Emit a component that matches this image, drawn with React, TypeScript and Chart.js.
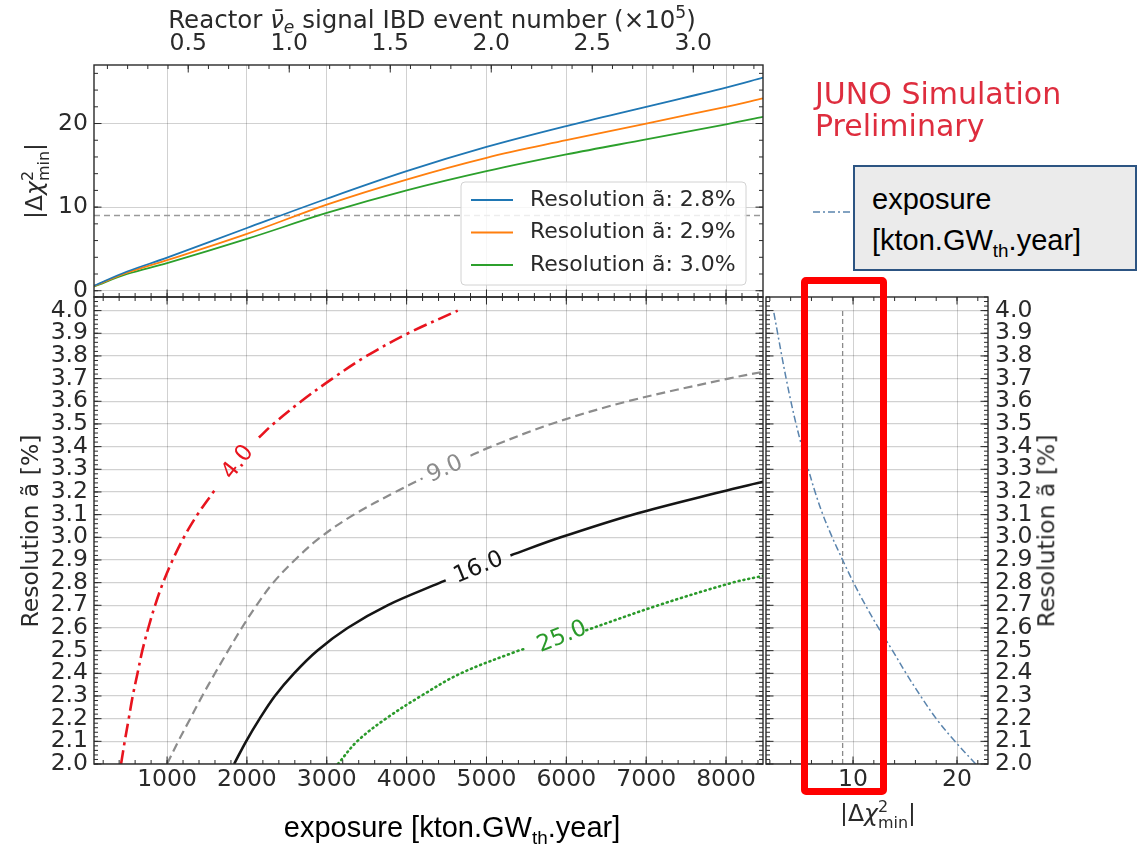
import React, { useEffect, useRef } from 'react';
import { Chart, registerables } from 'chart.js';

Chart.register(...registerables);

const PAGE_W = 1139;
const PAGE_H = 846;
const FONT = '"DejaVu Sans", sans-serif';
const SANS = '"Liberation Sans", Arial, sans-serif';
const INK = '#2a2a2a';
const GRID = 'rgba(0,0,0,0.18)';

// ---- axes ----
const EXPOSURE_MIN = 85;
const EXPOSURE_MAX = 8463;
const EXPOSURE_TICKS = [1000, 2000, 3000, 4000, 5000, 6000, 7000, 8000];
const EXPOSURE_PER_1E5_IBD = 2530;
const IBD_TICKS = [0.5, 1.0, 1.5, 2.0, 2.5, 3.0];
const CHI2_TICKS = [0, 10, 20];
const CHI2_SIDE_TICKS = [10, 20];
const RESOLUTION_TICKS = [2.0, 2.1, 2.2, 2.3, 2.4, 2.5, 2.6, 2.7, 2.8, 2.9, 3.0, 3.1, 3.2, 3.3, 3.4, 3.5, 3.6, 3.7, 3.8, 3.9, 4.0];

// ---- top panel: |Δχ²min| against exposure for three resolutions ----
const CURVE_EXPOSURE = [85, 500, 1000, 2000, 3000, 4000, 5000, 6000, 7000, 8000, 8463];
const CHI2_AT_2P8 = [0.6, 2.3, 3.95, 7.5, 11.0, 14.3, 17.2, 19.7, 22.0, 24.3, 25.5];
const CHI2_AT_2P9 = [0.55, 2.15, 3.65, 6.8, 10.3, 13.3, 15.9, 18.0, 20.0, 22.0, 23.0];
const CHI2_AT_3P0 = [0.5, 2.0, 3.3, 6.2, 9.3, 12.0, 14.3, 16.3, 18.1, 19.9, 20.8];
const CURVE_LABELS = ['Resolution ã: 2.8%', 'Resolution ã: 2.9%', 'Resolution ã: 3.0%'];
const CURVE_COLORS = ['#1f77b4', '#ff7f0e', '#2ca02c'];
const CHI2_THRESHOLD = 9;

// ---- main panel: iso-|Δχ²min| contours (resolution vs exposure), null = label gap ----
const C4_RES = [2.0, 2.1, 2.2, 2.3, 2.4, 2.5, 2.6, 2.7, 2.8, 2.9, 3.0, 3.1, 3.2, 3.22, null, 3.44, 3.5, 3.6, 3.7, 3.8, 3.9, 4.0];
const C4_EXPOSURE = [424, 470, 520, 570, 630, 690, 765, 850, 950, 1070, 1210, 1380, 1580, 1620, null, 2150, 2330, 2680, 3070, 3500, 4020, 4640];
const C9_RES = [2.0, 2.1, 2.2, 2.3, 2.4, 2.5, 2.6, 2.7, 2.8, 2.9, 3.0, 3.1, 3.2, 3.26, null, 3.36, 3.4, 3.5, 3.6, 3.7, 3.73];
const C9_EXPOSURE = [1000, 1140, 1290, 1440, 1600, 1765, 1935, 2120, 2330, 2600, 2920, 3340, 3860, 4200, null, 4800, 5060, 5810, 6770, 8030, 8463];
const C16_RES = [2.0, 2.1, 2.2, 2.3, 2.4, 2.5, 2.6, 2.7, 2.8, 2.81, null, 2.92, 3.0, 3.1, 3.2, 3.245];
const C16_EXPOSURE = [1840, 1990, 2160, 2350, 2590, 2880, 3260, 3760, 4420, 4490, null, 5300, 5930, 6830, 7930, 8463];
const C25_RES = [2.0, 2.1, 2.2, 2.3, 2.4, 2.5, 2.51, null, 2.59, 2.7, 2.8, 2.83];
const C25_EXPOSURE = [3140, 3380, 3740, 4180, 4680, 5400, 5500, null, 6250, 7150, 8080, 8463];

const CONTOUR_LEVELS = [4, 9, 16, 25];
const CONTOUR_COLORS = ['#e8141e', '#8c8c8c', '#151515', '#2a9a2a'];
const LABEL_AT_EXPOSURE = [1889, 4481, 4900, 5946];
const LABEL_AT_RES = [3.33, 3.3, 2.865, 2.56];
const LABEL_ANGLE_DEG = [-52, -24, -22, -22];

// ---- side panel: |Δχ²min| against resolution at the reference exposure ----
const SIDE_RES = [2.0, 2.1, 2.2, 2.3, 2.4, 2.5, 2.6, 2.7, 2.8, 2.9, 3.0, 3.1, 3.2, 3.3, 3.4, 3.5, 3.6, 3.7, 3.8, 3.9, 4.0];
const SIDE_CHI2 = [21.8, 19.8, 18.0, 16.5, 15.1, 13.8, 12.45, 11.2, 10.05, 9.0, 8.0, 7.1, 6.35, 5.7, 5.08, 4.52, 4.02, 3.57, 3.15, 2.75, 2.35];
const SIDE_COLOR = '#5a84ad';
const SIDE_DASH = [7, 3, 2, 3];

const steps = (start: number, stop: number, step: number) => {
  const out: number[] = [];
  for (let v = start; v <= stop + 1e-9; v += step) out.push(+v.toFixed(4));
  return out;
};

const toPoints = (xs: (number | null)[], ys: (number | null)[]) =>
  xs.map((x, i) => ({ x, y: ys[i] }));

type Side = { side: 'top' | 'bottom' | 'left' | 'right'; scale: string; major: number[]; minor: number[] };

// spines plus inward major/minor ticks on every side
const makeFrame = (sides: Side[]) => ({
  id: 'frameTicks',
  afterDraw(chart: any) {
    const { ctx, chartArea: a } = chart;
    ctx.save();
    ctx.strokeStyle = INK;
    ctx.lineWidth = 1;
    for (const s of sides) {
      const scale = chart.scales[s.scale];
      const horizontal = s.side === 'top' || s.side === 'bottom';
      const lo = horizontal ? a.left : a.top;
      const hi = horizontal ? a.right : a.bottom;
      const draw = (vals: number[], len: number) => {
        for (const v of vals) {
          const p = scale.getPixelForValue(v);
          if (p < lo - 0.5 || p > hi + 0.5) continue;
          ctx.beginPath();
          if (s.side === 'bottom') { ctx.moveTo(p, a.bottom); ctx.lineTo(p, a.bottom - len); }
          if (s.side === 'top') { ctx.moveTo(p, a.top); ctx.lineTo(p, a.top + len); }
          if (s.side === 'left') { ctx.moveTo(a.left, p); ctx.lineTo(a.left + len, p); }
          if (s.side === 'right') { ctx.moveTo(a.right, p); ctx.lineTo(a.right - len, p); }
          ctx.stroke();
        }
      };
      draw(s.minor, 4);
      draw(s.major, 7.5);
    }
    ctx.lineWidth = 1.4;
    ctx.strokeRect(a.left, a.top, a.right - a.left, a.bottom - a.top);
    ctx.restore();
  },
});

const legendBox = {
  id: 'legendBox',
  afterDatasetsDraw(chart: any) {
    const { ctx, chartArea: a } = chart;
    const left = a.right - 302;
    const top = a.bottom - 115;
    ctx.save();
    ctx.fillStyle = 'rgba(255,255,255,0.82)';
    ctx.strokeStyle = '#d2d2d2';
    ctx.lineWidth = 1;
    ctx.beginPath();
    ctx.roundRect(left, top, 285, 103, 4);
    ctx.fill();
    ctx.stroke();
    ctx.font = `22px ${FONT}`;
    ctx.textBaseline = 'middle';
    ctx.textAlign = 'left';
    [0, 1, 2].forEach((di, row) => {
      const ds = chart.data.datasets[di];
      const y = top + 18 + row * 32.5;
      ctx.strokeStyle = ds.borderColor;
      ctx.lineWidth = 1.8;
      ctx.beginPath();
      ctx.moveTo(left + 10, y);
      ctx.lineTo(left + 52, y);
      ctx.stroke();
      ctx.fillStyle = INK;
      ctx.fillText(ds.label, left + 69, y);
    });
    ctx.restore();
  },
};

const contourLabels = {
  id: 'contourLabels',
  afterDatasetsDraw(chart: any) {
    const { ctx } = chart;
    const xs = chart.scales.x;
    const ys = chart.scales.y;
    CONTOUR_LEVELS.forEach((level, i) => {
      ctx.save();
      ctx.translate(xs.getPixelForValue(LABEL_AT_EXPOSURE[i]), ys.getPixelForValue(LABEL_AT_RES[i]));
      ctx.rotate((LABEL_ANGLE_DEG[i] * Math.PI) / 180);
      ctx.font = `23px ${FONT}`;
      ctx.fillStyle = CONTOUR_COLORS[i];
      ctx.textAlign = 'center';
      ctx.textBaseline = 'middle';
      ctx.fillText(level.toFixed(1), 0, 0);
      ctx.restore();
    });
  },
};

const sideKey = {
  id: 'sideKey',
  afterDraw(chart: any) {
    const { ctx, chartArea: a } = chart;
    ctx.save();
    ctx.strokeStyle = SIDE_COLOR;
    ctx.lineWidth = 1.5;
    ctx.setLineDash(SIDE_DASH);
    ctx.beginPath();
    ctx.moveTo(a.left + 47, a.top - 85);
    ctx.lineTo(a.left + 86, a.top - 85);
    ctx.stroke();
    ctx.restore();
  },
};

const tickFont = { family: FONT, size: 23.5 };

const fixedTicks = (values: number[]) => (s: any) => {
  s.ticks = values.map((value) => ({ value }));
};
const fixSize = (prop: 'width' | 'height', size: number) => (s: any) => {
  s[prop] = size;
};

const baseOptions = (padding: any) => ({
  responsive: false,
  animation: false as const,
  devicePixelRatio: 1,
  events: [] as any[],
  layout: { padding },
  plugins: { legend: { display: false }, tooltip: { enabled: false } },
});

const line = (data: any[], color: string, width: number, dash: number[] = [], extra: any = {}) => ({
  data,
  borderColor: color,
  backgroundColor: color,
  borderWidth: width,
  borderDash: dash,
  pointRadius: 0,
  tension: 0.35,
  fill: false,
  ...extra,
});

// axis boxes are given fixed sizes so the plot areas land on exact pixels
const AXIS_W = 80;
const AXIS_H = 40;
const TOP_AXIS_H = 45;
const SIDE_AXIS_W = 60;

const topConfig = (): any => ({
  type: 'line',
  data: {
    datasets: [
      line(toPoints(CURVE_EXPOSURE, CHI2_AT_2P8), CURVE_COLORS[0], 1.8, [], { label: CURVE_LABELS[0] }),
      line(toPoints(CURVE_EXPOSURE, CHI2_AT_2P9), CURVE_COLORS[1], 1.8, [], { label: CURVE_LABELS[1] }),
      line(toPoints(CURVE_EXPOSURE, CHI2_AT_3P0), CURVE_COLORS[2], 1.8, [], { label: CURVE_LABELS[2] }),
      line(
        [{ x: EXPOSURE_MIN, y: CHI2_THRESHOLD }, { x: EXPOSURE_MAX, y: CHI2_THRESHOLD }],
        '#9a9a9a', 1.6, [6, 4], { label: 'threshold', tension: 0 }
      ),
    ],
  },
  options: {
    ...baseOptions({ left: 94 - AXIS_W, top: 65 - TOP_AXIS_H, right: PAGE_W - 763, bottom: PAGE_H - 297 }),
    scales: {
      x: {
        type: 'linear', position: 'bottom', min: EXPOSURE_MIN, max: EXPOSURE_MAX,
        afterBuildTicks: fixedTicks(EXPOSURE_TICKS),
        afterFit: fixSize('height', 0),
        ticks: { display: false },
        grid: { color: GRID, lineWidth: 1, drawTicks: false },
        border: { display: false },
      },
      xTop: {
        type: 'linear', position: 'top',
        min: EXPOSURE_MIN / EXPOSURE_PER_1E5_IBD, max: EXPOSURE_MAX / EXPOSURE_PER_1E5_IBD,
        afterBuildTicks: fixedTicks(IBD_TICKS),
        afterFit: fixSize('height', TOP_AXIS_H),
        ticks: { font: tickFont, color: INK, padding: 7, autoSkip: false, maxRotation: 0, callback: (v: any) => Number(v).toFixed(1) },
        grid: { display: false, drawTicks: false },
        border: { display: false },
      },
      y: {
        type: 'linear', min: -0.75, max: 27,
        afterBuildTicks: fixedTicks(CHI2_TICKS),
        afterFit: fixSize('width', AXIS_W),
        ticks: { font: tickFont, color: INK, padding: 6, autoSkip: false, callback: (v: any) => String(v) },
        grid: { color: GRID, lineWidth: 1, drawTicks: false },
        border: { display: false },
      },
    },
  },
  plugins: [
    legendBox,
    makeFrame([
      { side: 'bottom', scale: 'x', major: EXPOSURE_TICKS, minor: steps(200, 8400, 200) },
      { side: 'top', scale: 'xTop', major: IBD_TICKS, minor: steps(0.1, 3.3, 0.1) },
      { side: 'left', scale: 'y', major: CHI2_TICKS, minor: steps(0, 26, 2) },
      { side: 'right', scale: 'y', major: CHI2_TICKS, minor: steps(0, 26, 2) },
    ]),
  ],
});

const mainConfig = (): any => ({
  type: 'line',
  data: {
    datasets: [
      line(toPoints(C4_EXPOSURE, C4_RES), CONTOUR_COLORS[0], 2.6, [14, 5, 3, 5]),
      line(toPoints(C9_EXPOSURE, C9_RES), CONTOUR_COLORS[1], 2.2, [9, 5]),
      line(toPoints(C16_EXPOSURE, C16_RES), CONTOUR_COLORS[2], 2.6),
      line(toPoints(C25_EXPOSURE, C25_RES), CONTOUR_COLORS[3], 2.6, [1, 4], { borderCapStyle: 'round' }),
    ],
  },
  options: {
    ...baseOptions({ left: 94 - AXIS_W, top: 297, right: PAGE_W - 763, bottom: PAGE_H - 764 - AXIS_H }),
    scales: {
      x: {
        type: 'linear', position: 'bottom', min: EXPOSURE_MIN, max: EXPOSURE_MAX,
        afterBuildTicks: fixedTicks(EXPOSURE_TICKS),
        afterFit: fixSize('height', AXIS_H),
        ticks: { font: tickFont, color: INK, padding: 2, autoSkip: false, maxRotation: 0, callback: (v: any) => String(v) },
        grid: { color: GRID, lineWidth: 1, drawTicks: false },
        border: { display: false },
      },
      y: {
        type: 'linear', min: 2.0, max: 4.06,
        afterBuildTicks: fixedTicks(RESOLUTION_TICKS),
        afterFit: fixSize('width', AXIS_W),
        ticks: { font: tickFont, color: INK, padding: 6, autoSkip: false, callback: (v: any) => Number(v).toFixed(1) },
        grid: { color: GRID, lineWidth: 1.2, drawTicks: false },
        border: { display: false },
      },
    },
  },
  plugins: [
    contourLabels,
    makeFrame([
      { side: 'bottom', scale: 'x', major: EXPOSURE_TICKS, minor: steps(200, 8400, 200) },
      { side: 'top', scale: 'x', major: EXPOSURE_TICKS, minor: steps(200, 8400, 200) },
      { side: 'left', scale: 'y', major: RESOLUTION_TICKS, minor: steps(2.0, 4.06, 0.02) },
      { side: 'right', scale: 'y', major: RESOLUTION_TICKS, minor: steps(2.0, 4.06, 0.02) },
    ]),
  ],
});

const sideConfig = (): any => ({
  type: 'line',
  data: {
    datasets: [
      line(toPoints(SIDE_CHI2, SIDE_RES), SIDE_COLOR, 1.5, SIDE_DASH),
      line([{ x: CHI2_THRESHOLD, y: 2.0 }, { x: CHI2_THRESHOLD, y: 4.0 }], '#8a8a8a', 1.3, [5, 3], { tension: 0 }),
    ],
  },
  options: {
    ...baseOptions({ left: 766, top: 297, right: PAGE_W - 988 - SIDE_AXIS_W, bottom: PAGE_H - 764 - AXIS_H }),
    scales: {
      x: {
        type: 'linear', position: 'bottom', min: 1.63, max: 22.98,
        afterBuildTicks: fixedTicks(CHI2_SIDE_TICKS),
        afterFit: fixSize('height', AXIS_H),
        ticks: { font: tickFont, color: INK, padding: 2, autoSkip: false, maxRotation: 0, callback: (v: any) => String(v) },
        grid: { color: GRID, lineWidth: 1, drawTicks: false },
        border: { display: false },
      },
      y: {
        type: 'linear', position: 'right', min: 2.0, max: 4.06,
        afterBuildTicks: fixedTicks(RESOLUTION_TICKS),
        afterFit: fixSize('width', SIDE_AXIS_W),
        ticks: { font: tickFont, color: INK, padding: 7, autoSkip: false, callback: (v: any) => Number(v).toFixed(1) },
        grid: { color: GRID, lineWidth: 1.2, drawTicks: false },
        border: { display: false },
      },
    },
  },
  plugins: [
    sideKey,
    makeFrame([
      { side: 'bottom', scale: 'x', major: CHI2_SIDE_TICKS, minor: steps(2, 22, 2) },
      { side: 'top', scale: 'x', major: CHI2_SIDE_TICKS, minor: steps(2, 22, 2) },
      { side: 'left', scale: 'y', major: RESOLUTION_TICKS, minor: steps(2.0, 4.06, 0.02) },
      { side: 'right', scale: 'y', major: RESOLUTION_TICKS, minor: steps(2.0, 4.06, 0.02) },
    ]),
  ],
});

const ChartCanvas: React.FC<{ make: () => any }> = ({ make }) => {
  const ref = useRef<HTMLCanvasElement>(null);
  useEffect(() => {
    const chart = new Chart(ref.current as HTMLCanvasElement, make());
    return () => chart.destroy();
  }, [make]);
  return (
    <canvas
      ref={ref}
      width={PAGE_W}
      height={PAGE_H}
      style={{ position: 'absolute', left: 0, top: 0, width: PAGE_W, height: PAGE_H }}
    />
  );
};

const ChiMin: React.FC = () => (
  <span style={{ whiteSpace: 'nowrap' }}>
    |Δ<i>χ</i>
    <span style={{ display: 'inline-block', fontSize: '0.68em', lineHeight: 1.0, verticalAlign: '-0.42em', textAlign: 'left' }}>
      <span style={{ display: 'block' }}>2</span>
      <span style={{ display: 'block' }}>min</span>
    </span>
    |
  </span>
);

const textStyle: React.CSSProperties = { position: 'absolute', whiteSpace: 'nowrap', font: `23.5px ${FONT}`, color: INK, lineHeight: 1 };

const Rotated: React.FC<{ cx: number; cy: number; children: React.ReactNode }> = ({ cx, cy, children }) => (
  <div style={{ ...textStyle, left: cx, top: cy, transform: 'translate(-50%,-50%) rotate(-90deg)' }}>{children}</div>
);

const Centered: React.FC<{ cx: number; cy: number; size?: number; children: React.ReactNode }> = ({ cx, cy, size = 23.5, children }) => (
  <div style={{ ...textStyle, fontSize: size, left: cx, top: cy, transform: 'translate(-50%,-50%)' }}>{children}</div>
);

export default function App() {
  return (
    <div style={{ position: 'fixed', left: 0, top: 0, width: PAGE_W, height: PAGE_H, background: '#fff', overflow: 'hidden' }}>
      <ChartCanvas make={topConfig} />
      <ChartCanvas make={mainConfig} />
      <ChartCanvas make={sideConfig} />

      <Centered cx={432} cy={20} size={24.5}>
        Reactor <i>ν̄</i><span style={{ fontSize: '0.7em', verticalAlign: '-0.3em' }}><i>e</i></span> signal IBD event number (×10
        <span style={{ fontSize: '0.7em', verticalAlign: '0.6em' }}>5</span>)
      </Centered>

      <Rotated cx={36} cy={181}><ChiMin /></Rotated>
      <Rotated cx={31} cy={531}>Resolution ã [%]</Rotated>
      <Rotated cx={1047} cy={531}>Resolution ã [%]</Rotated>
      <Centered cx={878} cy={815}><ChiMin /></Centered>

      <div style={{ position: 'absolute', left: 452, top: 813, transform: 'translateX(-50%)', font: `29px ${SANS}`, lineHeight: '29px', color: '#000', whiteSpace: 'nowrap' }}>
        exposure [kton.GW<span style={{ fontSize: '0.65em', verticalAlign: '-7px' }}>th</span>.year]
      </div>

      <div style={{ position: 'absolute', left: 815, top: 77.5, font: `30px ${FONT}`, lineHeight: '32px', color: 'rgb(222,45,62)', whiteSpace: 'nowrap' }}>
        JUNO Simulation
        <br />
        Preliminary
      </div>

      <div
        style={{
          position: 'absolute', left: 853, top: 165, width: 284, height: 106, boxSizing: 'border-box',
          background: '#ebebeb', border: '2px solid #2c5482', padding: '11.5px 0 0 17px',
          font: `29px ${SANS}`, lineHeight: '41px', color: '#000', whiteSpace: 'nowrap',
        }}
      >
        exposure
        <br />
        [kton.GW<span style={{ fontSize: '0.65em', verticalAlign: '-7px' }}>th</span>.year]
      </div>

      <div
        style={{
          position: 'absolute', left: 801, top: 277, width: 86, height: 518, boxSizing: 'border-box',
          border: '7px solid #ff0000', borderRadius: 5,
        }}
      />
    </div>
  );
}
